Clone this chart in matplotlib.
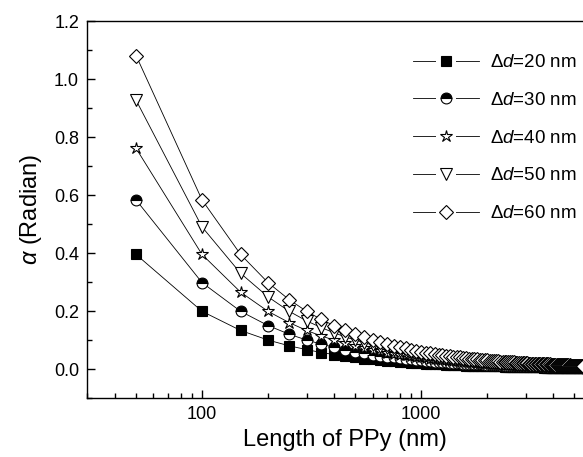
import matplotlib
matplotlib.use("Agg")
import matplotlib.pyplot as plt
import matplotlib.ticker as ticker
from matplotlib.lines import Line2D
from matplotlib.legend_handler import HandlerTuple

plt.rcParams['font.family'] = ['Liberation Sans', 'DejaVu Sans']
plt.rcParams['mathtext.fontset'] = 'custom'
plt.rcParams['mathtext.rm'] = 'Liberation Sans'
plt.rcParams['mathtext.it'] = 'Liberation Sans:italic'

# Length of PPy (nm)
lengths = [50, 100, 150, 200, 250, 300, 350, 400, 450, 500,
           550, 600, 650, 700, 750, 800, 850, 900, 950, 1000,
           1050, 1100, 1150, 1200, 1250, 1300, 1350, 1400, 1450, 1500,
           1550, 1600, 1650, 1700, 1750, 1800, 1850, 1900, 1950, 2000,
           2050, 2100, 2150, 2200, 2250, 2300, 2350, 2400, 2450, 2500,
           2550, 2600, 2650, 2700, 2750, 2800, 2850, 2900, 2950, 3000,
           3050, 3100, 3150, 3200, 3250, 3300, 3350, 3400, 3450, 3500,
           3550, 3600, 3650, 3700, 3750, 3800, 3850, 3900, 3950, 4000,
           4050, 4100, 4150, 4200, 4250, 4300, 4350, 4400, 4450, 4500,
           4550, 4600, 4650, 4700, 4750, 4800, 4850, 4900, 4950, 5000,
           5050, 5100, 5150, 5200, 5250, 5300, 5350, 5400, 5450, 5500]

# alpha (Radian) for each delta d
alpha_20 = [0.395, 0.199, 0.133, 0.100, 0.080, 0.067, 0.057, 0.050, 0.044, 0.040,
            0.036, 0.033, 0.031, 0.029, 0.027, 0.025, 0.024, 0.022, 0.021, 0.020,
            0.019, 0.018, 0.017, 0.017, 0.016, 0.015, 0.015, 0.014, 0.014, 0.013,
            0.013, 0.012, 0.012, 0.012, 0.011, 0.011, 0.011, 0.011, 0.010, 0.010,
            0.010, 0.010, 0.009, 0.009, 0.009, 0.009, 0.009, 0.008, 0.008, 0.008,
            0.008, 0.008, 0.008, 0.007, 0.007, 0.007, 0.007, 0.007, 0.007, 0.007,
            0.007, 0.006, 0.006, 0.006, 0.006, 0.006, 0.006, 0.006, 0.006, 0.006,
            0.006, 0.006, 0.005, 0.005, 0.005, 0.005, 0.005, 0.005, 0.005, 0.005,
            0.005, 0.005, 0.005, 0.005, 0.005, 0.005, 0.005, 0.005, 0.004, 0.004,
            0.004, 0.004, 0.004, 0.004, 0.004, 0.004, 0.004, 0.004, 0.004, 0.004,
            0.004, 0.004, 0.004, 0.004, 0.004, 0.004, 0.004, 0.004, 0.004, 0.004]

alpha_30 = [0.583, 0.298, 0.199, 0.150, 0.120, 0.100, 0.086, 0.075, 0.067, 0.060,
            0.055, 0.050, 0.046, 0.043, 0.040, 0.037, 0.035, 0.033, 0.032, 0.030,
            0.029, 0.027, 0.026, 0.025, 0.024, 0.023, 0.022, 0.021, 0.021, 0.020,
            0.019, 0.019, 0.018, 0.018, 0.017, 0.017, 0.016, 0.016, 0.015, 0.015,
            0.015, 0.014, 0.014, 0.014, 0.013, 0.013, 0.013, 0.012, 0.012, 0.012,
            0.012, 0.012, 0.011, 0.011, 0.011, 0.011, 0.011, 0.010, 0.010, 0.010,
            0.010, 0.010, 0.010, 0.009, 0.009, 0.009, 0.009, 0.009, 0.009, 0.009,
            0.008, 0.008, 0.008, 0.008, 0.008, 0.008, 0.008, 0.008, 0.008, 0.007,
            0.007, 0.007, 0.007, 0.007, 0.007, 0.007, 0.007, 0.007, 0.007, 0.007,
            0.007, 0.007, 0.006, 0.006, 0.006, 0.006, 0.006, 0.006, 0.006, 0.006,
            0.006, 0.006, 0.006, 0.006, 0.006, 0.006, 0.006, 0.006, 0.006, 0.005]

alpha_40 = [0.761, 0.395, 0.265, 0.199, 0.160, 0.133, 0.114, 0.100, 0.089, 0.080,
            0.073, 0.067, 0.061, 0.057, 0.053, 0.050, 0.047, 0.044, 0.042, 0.040,
            0.038, 0.036, 0.035, 0.033, 0.032, 0.031, 0.030, 0.029, 0.028, 0.027,
            0.026, 0.025, 0.024, 0.024, 0.023, 0.022, 0.022, 0.021, 0.021, 0.020,
            0.020, 0.019, 0.019, 0.018, 0.018, 0.017, 0.017, 0.017, 0.016, 0.016,
            0.016, 0.015, 0.015, 0.015, 0.015, 0.014, 0.014, 0.014, 0.014, 0.013,
            0.013, 0.013, 0.013, 0.012, 0.012, 0.012, 0.012, 0.012, 0.012, 0.011,
            0.011, 0.011, 0.011, 0.011, 0.011, 0.011, 0.010, 0.010, 0.010, 0.010,
            0.010, 0.010, 0.010, 0.010, 0.009, 0.009, 0.009, 0.009, 0.009, 0.009,
            0.009, 0.009, 0.009, 0.009, 0.008, 0.008, 0.008, 0.008, 0.008, 0.008,
            0.008, 0.008, 0.008, 0.008, 0.008, 0.008, 0.007, 0.007, 0.007, 0.007]

alpha_50 = [0.927, 0.490, 0.330, 0.249, 0.199, 0.166, 0.143, 0.125, 0.111, 0.100,
            0.091, 0.083, 0.077, 0.071, 0.067, 0.062, 0.059, 0.056, 0.053, 0.050,
            0.048, 0.045, 0.043, 0.042, 0.040, 0.038, 0.037, 0.036, 0.034, 0.033,
            0.032, 0.031, 0.030, 0.029, 0.029, 0.028, 0.027, 0.026, 0.026, 0.025,
            0.024, 0.024, 0.023, 0.023, 0.022, 0.022, 0.021, 0.021, 0.020, 0.020,
            0.020, 0.019, 0.019, 0.019, 0.018, 0.018, 0.018, 0.017, 0.017, 0.017,
            0.016, 0.016, 0.016, 0.016, 0.015, 0.015, 0.015, 0.015, 0.014, 0.014,
            0.014, 0.014, 0.014, 0.014, 0.013, 0.013, 0.013, 0.013, 0.013, 0.013,
            0.012, 0.012, 0.012, 0.012, 0.012, 0.012, 0.011, 0.011, 0.011, 0.011,
            0.011, 0.011, 0.011, 0.011, 0.011, 0.010, 0.010, 0.010, 0.010, 0.010,
            0.010, 0.010, 0.010, 0.010, 0.010, 0.009, 0.009, 0.009, 0.009, 0.009]

alpha_60 = [1.081, 0.583, 0.395, 0.298, 0.239, 0.199, 0.171, 0.150, 0.133, 0.120,
            0.109, 0.100, 0.092, 0.086, 0.080, 0.075, 0.071, 0.067, 0.063, 0.060,
            0.057, 0.055, 0.052, 0.050, 0.048, 0.046, 0.044, 0.043, 0.041, 0.040,
            0.039, 0.037, 0.036, 0.035, 0.034, 0.033, 0.032, 0.032, 0.031, 0.030,
            0.029, 0.029, 0.028, 0.027, 0.027, 0.026, 0.026, 0.025, 0.024, 0.024,
            0.024, 0.023, 0.023, 0.022, 0.022, 0.021, 0.021, 0.021, 0.020, 0.020,
            0.020, 0.019, 0.019, 0.019, 0.018, 0.018, 0.018, 0.018, 0.017, 0.017,
            0.017, 0.017, 0.016, 0.016, 0.016, 0.016, 0.016, 0.015, 0.015, 0.015,
            0.015, 0.015, 0.014, 0.014, 0.014, 0.014, 0.014, 0.014, 0.013, 0.013,
            0.013, 0.013, 0.013, 0.013, 0.013, 0.012, 0.012, 0.012, 0.012, 0.012,
            0.012, 0.012, 0.012, 0.012, 0.011, 0.011, 0.011, 0.011, 0.011, 0.011]

labels = [r'$\Delta d$=20 nm', r'$\Delta d$=30 nm', r'$\Delta d$=40 nm',
          r'$\Delta d$=50 nm', r'$\Delta d$=60 nm']

fig = plt.figure(figsize=(5.83, 4.57), dpi=100)
# axes run a little past the right edge of the picture, as in the original
ax = fig.add_axes([0.150, 0.129, 0.883, 0.825])

lw = 0.6
mew = 0.8
styles = [dict(marker='s', ms=7.2, mfc='black'),
          dict(marker='o', ms=7.8, fillstyle='top', mfc='black', mfcalt='white'),
          dict(marker='*', ms=9, mfc='white'),
          dict(marker='v', ms=8.8, mfc='white'),
          dict(marker='D', ms=7.4, mfc='white')]
series = [alpha_20, alpha_30, alpha_40, alpha_50, alpha_60]

handles = []
for vals, st in zip(series, styles):
    ax.plot(lengths, vals, '-', color='black', lw=lw, mec='black', mew=mew, **st)
    # legend handle: line with a white gap on both sides of the marker
    line = Line2D([], [], color='black', lw=lw)
    halo = Line2D([], [], ls='none', marker='s', ms=15,
                  mfc='white', mec='white', mew=0)
    mark = Line2D([], [], ls='none', mec='black', mew=mew, **st)
    handles.append((line, halo, mark))

ax.set_xscale('log')
ax.set_xlim(30, 6700)
ax.set_ylim(-0.1, 1.2)

ax.xaxis.set_major_locator(ticker.FixedLocator([100, 1000]))
ax.xaxis.set_major_formatter(ticker.FixedFormatter(['100', '1000']))
ax.xaxis.set_minor_locator(ticker.LogLocator(base=10, subs=range(2, 10), numticks=20))
ax.xaxis.set_minor_formatter(ticker.NullFormatter())
ax.yaxis.set_major_locator(ticker.MultipleLocator(0.2))
ax.yaxis.set_major_formatter(ticker.FormatStrFormatter('%.1f'))
ax.yaxis.set_minor_locator(ticker.MultipleLocator(0.1))

ax.tick_params(which='both', direction='in', top=False, right=False, width=1.0)
ax.tick_params(which='major', length=6, labelsize=13, pad=6)
ax.tick_params(which='minor', length=3.5)

for s in ['left', 'bottom', 'top']:
    ax.spines[s].set_linewidth(1.0)
ax.spines['right'].set_visible(False)

ax.set_xlabel('Length of PPy (nm)', fontsize=17, labelpad=4)
ax.set_ylabel(r'$\alpha$ (Radian)', fontsize=17, labelpad=7)

ax.legend(handles, labels, handler_map={tuple: HandlerTuple(ndivide=1)},
          loc='upper left', bbox_to_anchor=(413 / 583, 1 - 54 / 457),
          bbox_transform=fig.transFigure, frameon=False, fontsize=13.5,
          numpoints=1, handlelength=3.5, handletextpad=0.6,
          labelspacing=1.1, borderpad=0, borderaxespad=0)

fig.savefig('out.png', dpi=100)
